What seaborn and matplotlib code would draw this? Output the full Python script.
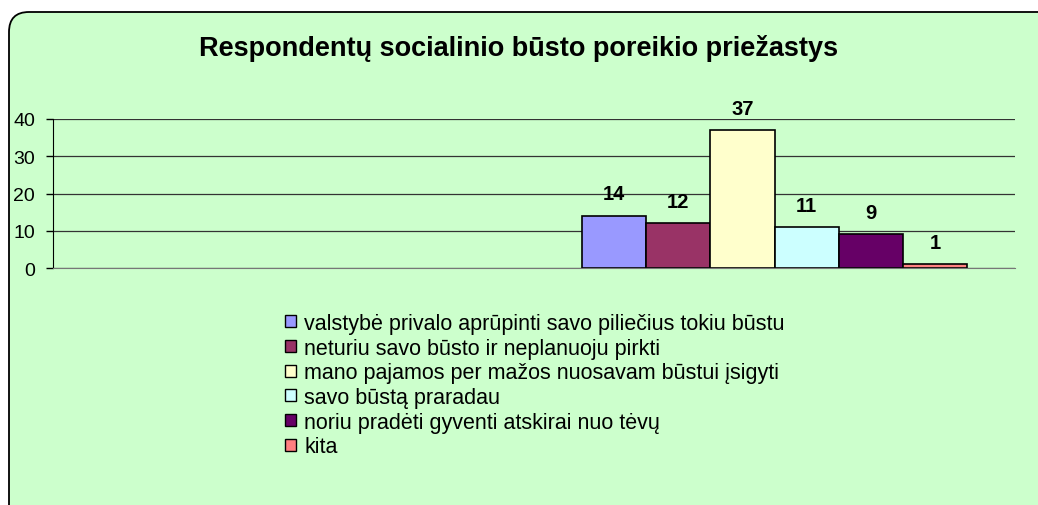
import pandas as pd
import numpy as np
import matplotlib
matplotlib.use("Agg")
import matplotlib.pyplot as plt
import seaborn as sns
from matplotlib.patches import FancyBboxPatch, Patch

reasons = [
    "valstybė privalo aprūpinti savo piliečius tokiu būstu",
    "neturiu savo būsto ir neplanuoju pirkti",
    "mano pajamos per mažos nuosavam būstui įsigyti",
    "savo būstą praradau",
    "noriu pradėti gyventi atskirai nuo tėvų",
    "kita",
]
counts = [14, 12, 37, 11, 9, 1]
colors = ["#9999FF", "#993366", "#FFFFCC", "#CCFFFF", "#660066", "#FF8080"]
title = "Respondentų socialinio būsto poreikio priežastys"

df = pd.DataFrame({"grupe": "visi", "priezastis": reasons, "n": counts})

sns.set_style("white")
plt.rcParams["font.family"] = ["Liberation Sans", "DejaVu Sans"]
plt.rcParams["text.color"] = "black"
plt.rcParams["ytick.color"] = "black"

fig = plt.figure(figsize=(10.38, 5.06), dpi=100)
fig.patch.set_facecolor("white")

# rounded green chart area (runs off the right and bottom edges), inches
box = FancyBboxPatch((0.09, -1.0), 12.0, 5.06 - 0.13 + 1.0,
                     boxstyle="round,pad=0,rounding_size=0.2",
                     transform=fig.dpi_scale_trans, facecolor="#CCFFCC",
                     edgecolor="black", linewidth=1.3, zorder=-5)
fig.patches.append(box)

ax = fig.add_axes([53 / 1038, 1 - 269 / 506, (1015 - 53) / 1038, (269 - 120) / 506])
ax.set_facecolor("none")

sns.barplot(data=df, x="grupe", y="n", hue="priezastis", hue_order=reasons,
            palette=colors, width=0.8, edgecolor="black", linewidth=1.2,
            saturation=1, legend=False, ax=ax)

for cont in ax.containers:
    ax.bar_label(cont, padding=9, fontsize=14.5, fontweight="bold")

ax.set_xlim(-1.5, 0.5)
ax.set_ylim(0, 40)
ax.set_yticks([0, 10, 20, 30, 40])
ax.set_xticks([])
ax.set_xlabel("")
ax.set_ylabel("")
ax.yaxis.grid(True, color="#333333", linewidth=0.9)
ax.set_axisbelow(True)
ax.tick_params(axis="y", direction="out", length=5, width=1, left=True,
               labelsize=14, pad=8, color="black")
for s in ["top", "right"]:
    ax.spines[s].set_visible(False)
ax.spines["left"].set_color("black")
ax.spines["bottom"].set_color("#777777")

fig.text(0.5, 1 - 49 / 506, title, ha="center", va="center",
         fontsize=19.5, fontweight="bold")

handles = [Patch(facecolor=c, edgecolor="black", linewidth=1) for c in colors]
fig.legend(handles, reasons, loc="upper left",
           bbox_to_anchor=(285 / 1038, 1 - 314 / 506), frameon=False,
           fontsize=15.5, handlelength=0.5, handleheight=0.5,
           handletextpad=0.4, labelspacing=0.17, borderaxespad=0,
           borderpad=0)

fig.savefig("out.png", dpi=100)
